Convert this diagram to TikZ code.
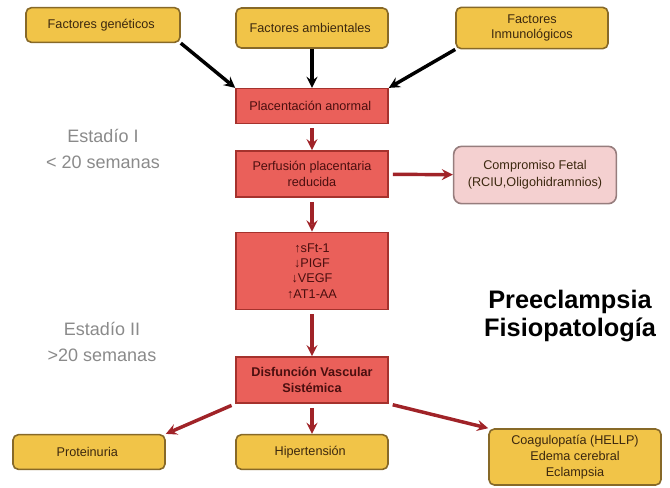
\documentclass[tikz,border=0pt]{standalone}
\usepackage{fontspec}
\setmainfont{Liberation Sans}
\usepackage{tikz}
\definecolor{gold}{RGB}{241, 196, 72}
\definecolor{goldline}{RGB}{135, 105, 40}
\definecolor{salmon}{RGB}{234, 96, 90}
\definecolor{salmonline}{RGB}{165, 50, 45}
\definecolor{blush}{RGB}{244, 208, 208}
\definecolor{blushline}{RGB}{150, 125, 125}
\definecolor{wine}{RGB}{160, 35, 40}
\definecolor{stage}{RGB}{138, 138, 138}
\definecolor{ink}{RGB}{60, 40, 15}
\definecolor{redink}{RGB}{75, 15, 15}
\newcommand*{\w}{114}

\begin{document}
\begin{tikzpicture}[
   x=0.75pt, y=-0.75pt,
   yelrec/.style={rectangle, rounded corners=4, draw=goldline, fill=gold, line width=1.2, text=ink,
                  inner sep=2, minimum width=\w, minimum height=26, align=center,
                  font=\fontsize{9.5}{11.5}\selectfont},
   redrec/.style={rectangle, draw=salmonline, fill=salmon, line width=1.2, text=redink,
                  inner sep=2, minimum width=\w, minimum height=26, align=center,
                  font=\fontsize{9.5}{11.5}\selectfont},
   pinkrec/.style={rectangle, rounded corners=6, draw=blushline, fill=blush, line width=1.2, text=ink,
                   inner sep=2, minimum width=122, minimum height=43, align=center,
                   font=\fontsize{9.5}{13}\selectfont},
   stagetxt/.style={text=stage, align=center, font=\fontsize{13.5}{19}\selectfont},
   blackarr/.style={->, >=stealth, line width=2.6, color=black},
   redarr/.style={->, >=stealth, line width=2.6, color=wine, shorten <=3}
  ]

  \useasboundingbox (0, 0) rectangle (670, 487);

  % causes
  \node (gen) at (103, 25) [yelrec, minimum width=115.5] { Factores genéticos };
  \node (amb) at (312, 28) [yelrec, minimum height=30] { Factores ambientales };
  \node (inm) at (532, 28) [yelrec, minimum height=31] { Factores\\Inmunológicos };

  % stage I
  \node (plac) at (312, 106) [redrec] { Placentación anormal };
  \node (perf) at (312, 174) [redrec, minimum height=34.5] { Perfusión placentaria\\reducida };
  \node (comp) at (535, 175) [pinkrec] { Compromiso Fetal\\(RCIU,Oligohidramnios) };
  \node (bio) at (312, 271) [redrec, minimum height=58] { ↑sFt-1\\↓PIGF\\↓VEGF\\↑AT1-AA };

  % stage II
  \node (disf) at (312, 380) [redrec, minimum height=34.5, font=\fontsize{9.5}{12}\selectfont\bfseries]
        { Disfunción Vascular\\Sistémica };
  \node (prot) at (89, 452) [yelrec] { Proteinuria };
  \node (hip) at (312, 452) [yelrec] { Hipertensión };
  \node (coag) at (575, 457) [yelrec, minimum width=129, minimum height=42, font=\fontsize{9.5}{12}\selectfont]
        { Coagulopatía (HELLP)\\Edema cerebral\\Eclampsia };

  \node (st1) at (103, 149) [stagetxt] { Estadío I\\< 20 semanas };
  \node (st2) at (102, 342) [stagetxt] { Estadío II\\>20 semanas };

  \node (title) at (570, 316) [align=center, font=\fontsize{19}{20.5}\selectfont\bfseries]
        { Preeclampsia\\Fisiopatología };

  \foreach \B/\E in {gen.south east/plac.north west, amb/plac, inm.south west/plac.north east} {
    \draw[blackarr] (\B) -- (\E);
  }

  \foreach \B/\E in {plac/perf, perf/comp, perf/bio, bio/disf, disf/hip,
                     disf.south west/prot.north east, disf.south east/coag.north west} {
    \draw[redarr] (\B) -- (\E);
  }

\end{tikzpicture}
\end{document}
